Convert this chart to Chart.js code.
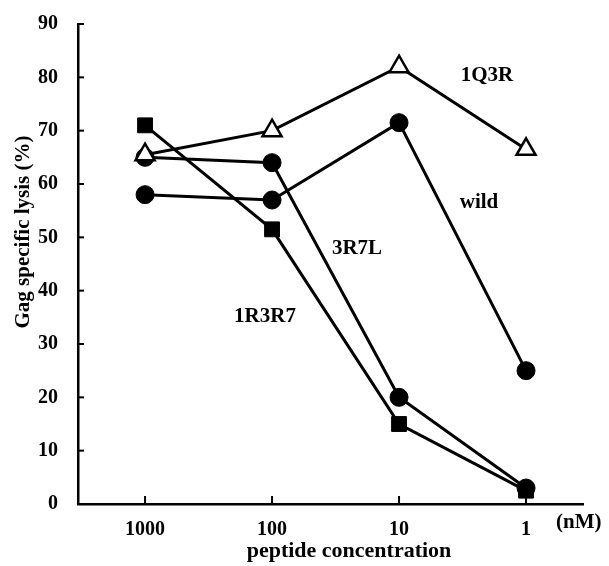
<!DOCTYPE html>
<html>
<head>
<meta charset="utf-8">
<script src="https://cdn.jsdelivr.net/npm/chart.js@4"></script>
<style>
  body { margin: 0; background: #fff; }
  canvas { display: block; }
</style>
</head>
<body>
<canvas id="grafico" width="609" height="566"></canvas>
<script>
// =============================
// DADOS
// =============================
const concentracoes = [1000, 100, 10, 1];
const yTicks = [0, 10, 20, 30, 40, 50, 60, 70, 80, 90];

const lise1Q3R = [65.5, 70, 82, 66.5];
const liseWild = [58, 57, 71.5, 25];
const lise3R7L = [65, 64, 20, 3];
const lise1R3R7 = [71, 51.5, 15, 2.5];

const rotulos = [
  { texto: "1Q3R", x: 487, y: 76 },
  { texto: "wild", x: 479, y: 203 },
  { texto: "3R7L", x: 357, y: 249 },
  { texto: "1R3R7", x: 265, y: 317 }
];

const fonteSerif = "'Liberation Serif', 'Times New Roman', serif";

function pontos(valores) {
  return concentracoes.map((c, i) => ({ x: c, y: valores[i] }));
}

// =============================
// PLUGIN: ticks internos e textos
// =============================
const extras = {
  id: "extras",
  afterDraw(chart) {
    const ctx = chart.ctx;
    const xs = chart.scales.x;
    const ys = chart.scales.y;
    const area = chart.chartArea;

    ctx.save();
    ctx.strokeStyle = "#000";
    ctx.lineWidth = 2;

    yTicks.forEach(v => {
      const py = ys.getPixelForValue(v);
      ctx.beginPath();
      ctx.moveTo(area.left, py);
      ctx.lineTo(area.left + 6, py);
      ctx.stroke();
    });

    concentracoes.forEach(c => {
      const px = xs.getPixelForValue(c);
      ctx.beginPath();
      ctx.moveTo(px, area.bottom);
      ctx.lineTo(px, area.bottom - 8);
      ctx.stroke();
    });

    ctx.fillStyle = "#000";
    ctx.textAlign = "center";
    ctx.textBaseline = "middle";
    ctx.font = "bold 21px " + fonteSerif;
    rotulos.forEach(r => ctx.fillText(r.texto, r.x, r.y));

    ctx.textAlign = "left";
    ctx.fillText("(nM)", 556, 523);

    ctx.textAlign = "center";
    ctx.font = "bold 22px " + fonteSerif;
    ctx.fillText("peptide concentration", 349, 551);

    ctx.translate(24, 232);
    ctx.rotate(-Math.PI / 2);
    ctx.font = "bold 21px " + fonteSerif;
    ctx.fillText("Gag specific lysis (%)", 0, 0);

    ctx.restore();
  }
};

// =============================
// GRÁFICO
// =============================
const serieBase = {
  borderColor: "#000",
  borderWidth: 3,
  pointBorderColor: "#000",
  pointBackgroundColor: "#000",
  tension: 0,
  fill: false
};

new Chart(document.getElementById("grafico"), {
  type: "line",
  data: {
    datasets: [
      {
        ...serieBase,
        label: "1Q3R",
        data: pontos(lise1Q3R),
        pointStyle: "triangle",
        pointRadius: 11,
        pointBackgroundColor: "#fff",
        pointBorderWidth: 2.5
      },
      {
        ...serieBase,
        label: "wild",
        data: pontos(liseWild),
        pointStyle: "circle",
        pointRadius: 9,
        pointBorderWidth: 1
      },
      {
        ...serieBase,
        label: "3R7L",
        data: pontos(lise3R7L),
        pointStyle: "circle",
        pointRadius: 9,
        pointBorderWidth: 1
      },
      {
        ...serieBase,
        label: "1R3R7",
        data: pontos(lise1R3R7),
        pointStyle: "rect",
        pointRadius: 10.5,
        pointBorderWidth: 1
      }
    ]
  },
  options: {
    responsive: false,
    animation: false,
    layout: { padding: { left: 0, right: 26, top: 15, bottom: 0 } },
    plugins: {
      legend: { display: false },
      tooltip: { enabled: false }
    },
    scales: {
      x: {
        type: "logarithmic",
        reverse: true,
        min: 0.356,
        max: 3373,
        afterBuildTicks: s => { s.ticks = concentracoes.map(v => ({ value: v })); },
        afterFit: s => { s.height = 62; },
        grid: { display: false },
        border: { display: true, color: "#000", width: 2.5 },
        ticks: {
          autoSkip: false,
          maxRotation: 0,
          padding: 6,
          color: "#000",
          font: { family: fonteSerif, size: 20, weight: "bold" },
          callback: v => String(v)
        }
      },
      y: {
        min: 0,
        max: 90,
        afterBuildTicks: s => { s.ticks = yTicks.map(v => ({ value: v })); },
        afterFit: s => { s.width = 78; },
        grid: { display: false },
        border: { display: true, color: "#000", width: 2.5 },
        ticks: {
          padding: 12,
          color: "#000",
          font: { family: fonteSerif, size: 20, weight: "bold" }
        }
      }
    }
  },
  plugins: [extras]
});
</script>
</body>
</html>
